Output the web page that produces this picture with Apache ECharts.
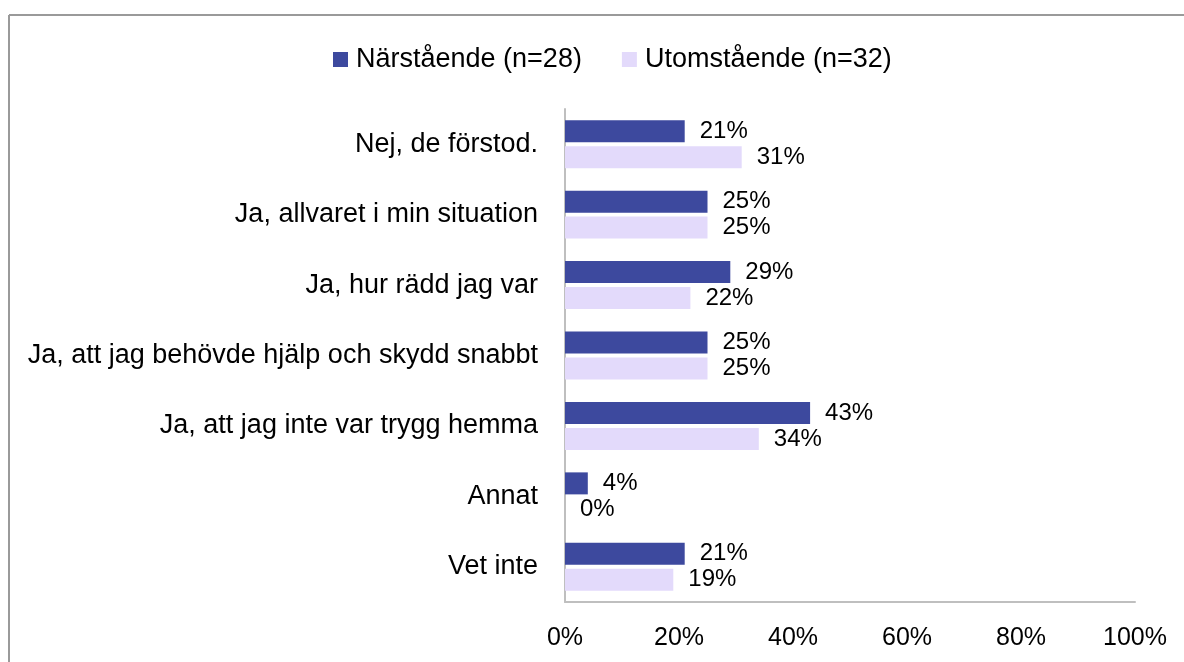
<!DOCTYPE html>
<html><head><meta charset="utf-8">
<script src="https://cdn.jsdelivr.net/npm/echarts@6/dist/echarts.min.js"></script>
<style>html,body{margin:0;padding:0;background:#fff}#c{width:1184px;height:662px}</style>
</head><body><div id="c"></div>
<script>
const categories = ["Nej, de förstod.", "Ja, allvaret i min situation", "Ja, hur rädd jag var", "Ja, att jag behövde hjälp och skydd snabbt", "Ja, att jag inte var trygg hemma", "Annat", "Vet inte"];
const seriesNames = ["Närstående (n=28)", "Utomstående (n=32)"];
const narstaende = [21, 25, 29, 25, 43, 4, 21];
const utomstaende = [31, 25, 22, 25, 34, 0, 19];
const xTicks = [0, 20, 40, 60, 80, 100];

const font = "'Liberation Sans', Arial, sans-serif";
const chart = echarts.init(document.getElementById('c'));
const labelOpt = {show: true, position: 'right', distance: 15, fontSize: 24, color: '#000', fontFamily: font, formatter: p => p.value + '%'};
chart.setOption({
  animation: false,
  textStyle: {fontFamily: font},
  graphic: [
    {type: 'line', shape: {x1: 9, y1: 15, x2: 1184, y2: 15}, style: {stroke: '#9a9a9a', lineWidth: 2}},
    {type: 'line', shape: {x1: 9, y1: 15, x2: 9, y2: 662}, style: {stroke: '#9a9a9a', lineWidth: 2}}
  ],
  legend: {
    top: 41, left: 328,
    itemWidth: 15, itemHeight: 15, itemGap: 40,
    icon: 'rect',
    textStyle: {fontSize: 27, color: '#000', fontFamily: font, padding: [0, 0, 0, 3]},
    data: seriesNames
  },
  grid: {left: 565, right: 49, top: 109, bottom: 60, containLabel: false},
  xAxis: {
    type: 'value', min: xTicks[0], max: xTicks[xTicks.length - 1], interval: 20,
    axisLine: {show: true, lineStyle: {color: '#bfbfbf', width: 2}},
    axisTick: {show: false},
    splitLine: {show: false},
    axisLabel: {fontSize: 25, color: '#000', margin: 24, formatter: v => v + '%', fontFamily: font}
  },
  yAxis: {
    type: 'category', data: categories, inverse: true,
    axisLine: {show: true, lineStyle: {color: '#bfbfbf', width: 2}},
    axisTick: {show: false},
    axisLabel: {fontSize: 27, color: '#000', margin: 27, fontFamily: font}
  },
  series: [
    {name: seriesNames[0], type: 'bar', data: narstaende, barWidth: 22, barGap: '18%',
     itemStyle: {color: '#3d499e'}, label: labelOpt},
    {name: seriesNames[1], type: 'bar', data: utomstaende, barWidth: 22,
     itemStyle: {color: '#e3dafb'}, label: labelOpt}
  ]
});
</script></body></html>
